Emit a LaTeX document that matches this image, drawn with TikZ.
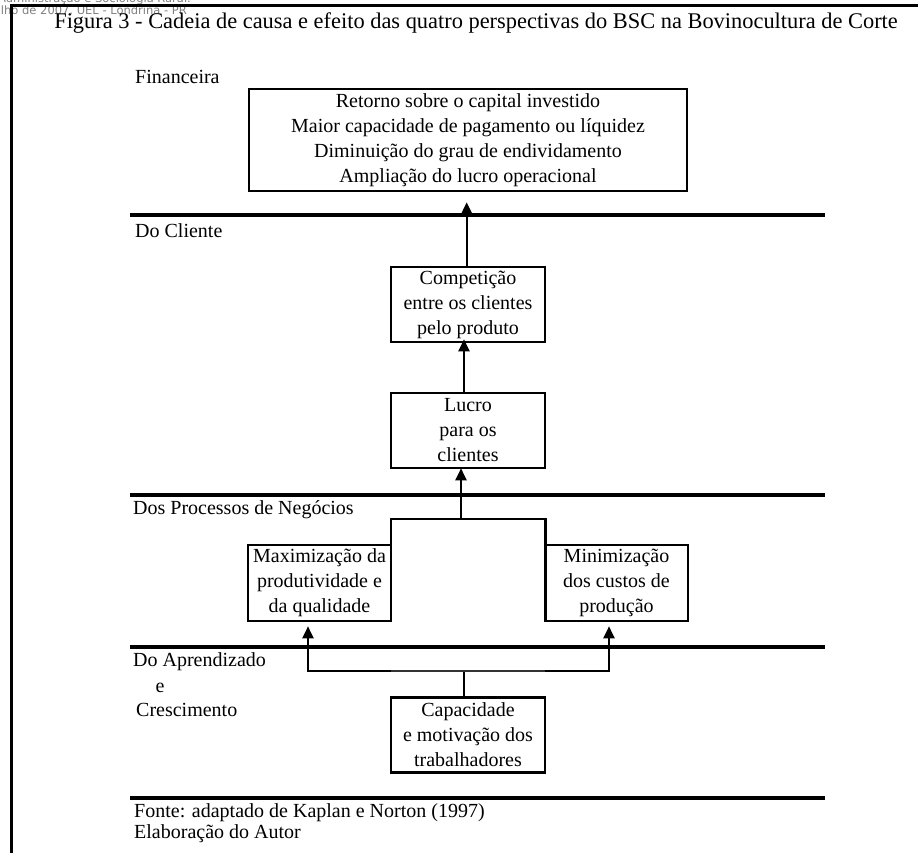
\documentclass[tikz,border=0pt]{standalone}
\usepackage{fontspec}
\setmainfont{Liberation Serif}
\newfontfamily\hdrfont{DejaVu Sans}
\usetikzlibrary{arrows.meta}
\begin{document}
\begin{tikzpicture}[x=1pt,y=-1pt,
  box/.style={draw, line width=2.6pt, align=center, inner sep=0pt, font=\fontsize{20}{25}\selectfont},
  sepline/.style={line width=4pt},
  lbl/.style={anchor=base west, inner sep=0pt, font=\fontsize{20}{25}\selectfont},
  arr/.style={line width=2.2pt, -{Triangle[length=12pt,width=11pt]}},
  conn/.style={line width=2.2pt},
  hdr/.style={anchor=base east, inner sep=0pt, text=black!50, font=\hdrfont\fontsize{11.5}{13}\selectfont},
  frame/.style={line width=3pt}
]
\useasboundingbox (0,0) rectangle (918,853);
\fill[white] (0,0) rectangle (918,853);

% faded header of the scanned page
\begin{scope}
\clip (0,0) rectangle (918,853);
\node[hdr] (h1) at (191,3) {Economia, Administração e Sociologia Rural.};
\node[hdr] (h2) at (187,14.5) {Julho de 2007, UEL - Londrina - PR};
\end{scope}

% frame
\coordinate (fbl) at (11.5,853);
\coordinate (ftl) at (11.5,5.5);
\coordinate (ftr) at (918,5.5);
\draw[frame] (fbl) -- (ftl) -- (ftr);

% title
\node[anchor=base east, inner sep=0pt, font=\fontsize{22.4}{26}\selectfont] (title) at (898,29)
  {Figura 3 - Cadeia de causa e efeito das quatro perspectivas do BSC na Bovinocultura de Corte};

% separators
\foreach \y/\n in {215.5/s1, 494.5/s2, 646.5/s3, 797.5/s4} {
  \coordinate (\n l) at (130,\y);
  \coordinate (\n r) at (825,\y);
  \draw[sepline] (\n l) -- (\n r);
}

% perspective labels
\node[lbl] (lfin) at (135,84) {Financeira};
\node[lbl] (lcli) at (135,237) {Do Cliente};
\node[lbl] (lproc) at (133,514) {Dos Processos de Negócios};
\node[lbl] (lapr) at (133,666) {Do Aprendizado};
\node[anchor=base, inner sep=0pt, font=\fontsize{20}{25}\selectfont] (le) at (160,692) {e};
\node[lbl] (lcres) at (136,716) {Crescimento};
\node[lbl] (lfonte) at (134,817) {Fonte: adaptado de Kaplan e Norton (1997)};
\node[lbl] (lelab) at (134,838) {Elaboração do Autor};

% boxes
\node[box, minimum width=438pt, minimum height=102pt] (fin) at (468,140)
  {Retorno sobre o capital investido\\Maior capacidade de pagamento ou líquidez\\Diminuição do grau de endividamento\\Ampliação do lucro operacional};
\node[box, minimum width=154pt, minimum height=75pt] (comp) at (468,304.5)
  {Competição\\entre os clientes\\pelo produto};
\node[box, minimum width=154pt, minimum height=75pt] (lucro) at (468,430.5)
  {Lucro\\para os\\clientes};
\node[minimum width=154pt, minimum height=102pt, inner sep=0pt] (mid) at (468,570) {};
\draw[line width=2.6pt] (mid.south west) -- (mid.north west) -- (mid.north east) -- (mid.south east);
\node[box, minimum width=143pt, minimum height=76pt] (max) at (319.5,583)
  {Maximização da\\produtividade e\\da qualidade};
\node[box, minimum width=143pt, minimum height=76pt] (min) at (616.5,583)
  {Minimização\\dos custos de\\produção};
\node[box, minimum width=154pt, minimum height=75pt] (cap) at (468,735)
  {Capacidade\\e motivação dos\\trabalhadores};

% arrows
\draw[arr, shorten >=10pt] ([xshift=-1.3pt]comp.north) -- ([xshift=-1.3pt]fin.south);
\draw[arr, shorten >=-4pt] ([xshift=-4pt]lucro.north) -- ([xshift=-4pt]comp.south);
\draw[arr, shorten >=-1pt] ([xshift=-7pt]mid.north) -- ([xshift=-7pt]lucro.south);

\coordinate (j) at (464,671);
\coordinate (jl) at (391,671);
\coordinate (jr) at (545,671);
\draw[conn] ([xshift=-4pt]cap.north) -- (j);
\draw[line width=1.6pt, black!80] (jl) -- (jr);
\draw[arr, shorten >=4pt] (jl) -| ([xshift=-11.5pt]max.south);
\draw[arr, shorten >=4pt] (jr) -| ([xshift=-7.5pt]min.south);
\end{tikzpicture}
\end{document}
